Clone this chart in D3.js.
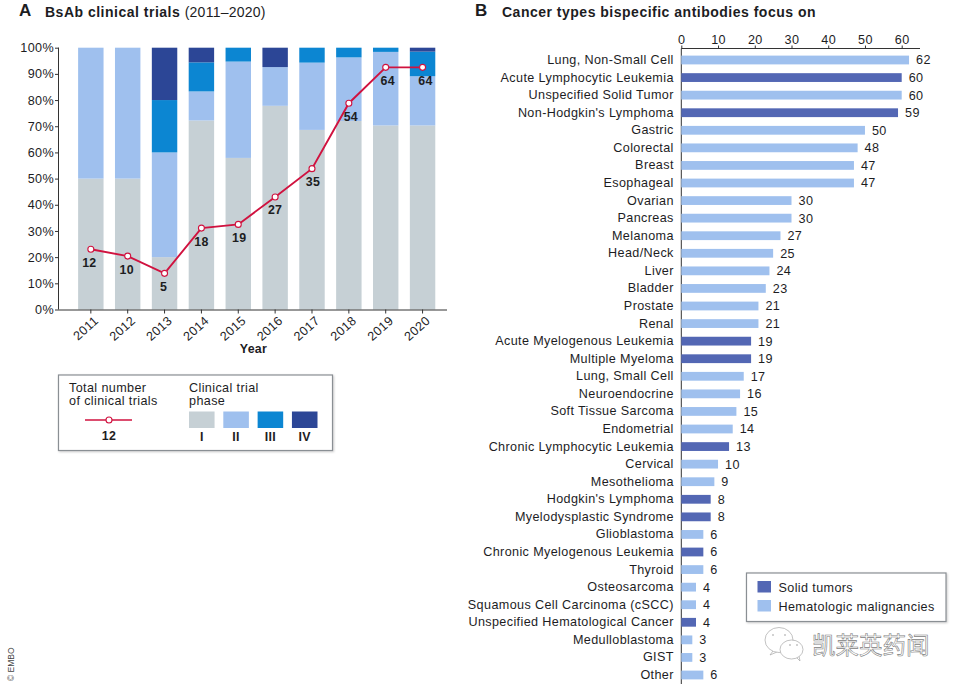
<!DOCTYPE html>
<html><head><meta charset="utf-8">
<script src="https://cdn.jsdelivr.net/npm/d3@7"></script>
<style>
html,body{margin:0;padding:0;background:#fff}
svg{display:block}
text{font-family:"Liberation Sans",Arial,sans-serif;fill:#1d1d1f}
.lab{font-size:12.6px;letter-spacing:.38px}
.num{font-size:12.4px;font-weight:700;letter-spacing:.3px}
.ttl{font-size:14px;font-weight:700;letter-spacing:.5px}
</style></head><body>
<svg id="c" width="962" height="689"></svg>
<script>
const years=[2011,2012,2013,2014,2015,2016,2017,2018,2019,2020];
const phaseI=[50,50,20,72.2,57.9,77.8,68.6,72,70.3,70.3];
const phaseII=[50,50,40,11.1,36.8,14.8,25.7,24.3,28.1,18.8];
const phaseIII=[0,0,20,11.1,5.3,0,5.7,3.7,1.6,9.4];
const phaseIV=[0,0,20,5.6,0,7.4,0,0,0,1.5];
const trialPct=[23,20.4,13.8,31.1,32.5,43,53.8,78.8,92.5,92.5];
const trialCounts=[12,10,5,18,19,27,35,54,64,64];
const phaseNames=["I","II","III","IV"];
const phaseColors=["#c6d0d5","#9fc0ee","#0c86d2","#2c4696"];
const yTicks=[0,10,20,30,40,50,60,70,80,90,100];
const cancers=["Lung, Non-Small Cell","Acute Lymphocytic Leukemia","Unspecified Solid Tumor","Non-Hodgkin's Lymphoma","Gastric","Colorectal","Breast","Esophageal","Ovarian","Pancreas","Melanoma","Head/Neck","Liver","Bladder","Prostate","Renal","Acute Myelogenous Leukemia","Multiple Myeloma","Lung, Small Cell","Neuroendocrine","Soft Tissue Sarcoma","Endometrial","Chronic Lymphocytic Leukemia","Cervical","Mesothelioma","Hodgkin's Lymphoma","Myelodysplastic Syndrome","Glioblastoma","Chronic Myelogenous Leukemia","Thyroid","Osteosarcoma","Squamous Cell Carcinoma (cSCC)","Unspecified Hematological Cancer","Medulloblastoma","GIST","Other"];
const cancerValues=[62,60,60,59,50,48,47,47,30,30,27,25,24,23,21,21,19,19,17,16,15,14,13,10,9,8,8,6,6,6,4,4,4,3,3,6];
const darkBars=["Acute Lymphocytic Leukemia","Non-Hodgkin's Lymphoma","Acute Myelogenous Leukemia","Multiple Myeloma","Chronic Lymphocytic Leukemia","Hodgkin's Lymphoma","Myelodysplastic Syndrome","Chronic Myelogenous Leukemia","Unspecified Hematological Cancer"];
const bTicks=[0,10,20,30,40,50,60];
const legendB=["Solid tumors","Hematologic malignancies"];
const DARK="#5367b4",LIGHT="#9fc0ee",RED="#d0123f",AXIS="#333";
const svg=d3.select("#c");

// Titles
svg.append("text").attr("x",19).attr("y",15.5).style("font-size","17px").style("font-weight","700").text("A");
const tA=svg.append("text").attr("x",45).attr("y",16.5).attr("class","ttl");
tA.append("tspan").text("BsAb clinical trials ");
tA.append("tspan").style("font-weight","400").style("letter-spacing","0.25px").text("(2011\u20132020)");
svg.append("text").attr("x",475).attr("y",15.5).style("font-size","17px").style("font-weight","700").text("B");
svg.append("text").attr("x",502).attr("y",16.5).attr("class","ttl").text("Cancer types bispecific antibodies focus on");

// Panel A
const xA=d3.scaleBand().domain(years).range([72.4,441]).paddingInner(0.31).paddingOuter(0.155);
const yA=d3.scaleLinear().domain([0,100]).range([309.5,47.7]);
const layers=d3.stack().keys([0,1,2,3]).value((d,k)=>[phaseI,phaseII,phaseIII,phaseIV][k][d])(d3.range(years.length));
svg.append("g").selectAll("g").data(layers).join("g").attr("fill",(d,i)=>phaseColors[i])
 .selectAll("rect").data(d=>d).join("rect")
 .attr("x",d=>xA(years[d.data])).attr("width",xA.bandwidth())
 .attr("y",d=>yA(d[1])).attr("height",d=>Math.max(0,yA(d[0])-yA(d[1])));

const ay=svg.append("g").attr("transform","translate(59,0)").call(d3.axisLeft(yA).tickValues(yTicks).tickFormat(d=>d+"%").tickSize(4).tickPadding(1));
ay.selectAll("text").attr("class","lab");
const ax=svg.append("g").attr("transform","translate(0,309.5)");
ax.call(d3.axisBottom(xA).tickSize(4).tickPadding(4));
ax.selectAll("text").attr("class","lab").attr("text-anchor","end").attr("x",0).attr("y",0).attr("dy","0.35em").attr("transform","translate(5.5,9) rotate(-42)");
ax.select(".domain").attr("d","M59,0.5H447");
ay.select(".domain").attr("d","M-0.5,47.7V309.5");
svg.selectAll(".domain,.tick line").attr("stroke",AXIS);
svg.append("text").attr("x",253.5).attr("y",353).attr("text-anchor","middle").attr("class","num").text("Year");

const cx=d=>xA(years[d])+xA.bandwidth()/2;
const line=d3.line().x(cx).y(d=>yA(trialPct[d]));
svg.append("path").datum(d3.range(years.length)).attr("d",line).attr("fill","none").attr("stroke",RED).attr("stroke-width",1.9);
svg.append("g").selectAll("circle").data(d3.range(years.length)).join("circle")
 .attr("cx",cx).attr("cy",d=>yA(trialPct[d])).attr("r",3).attr("fill","#fff").attr("stroke",RED).attr("stroke-width",1.1);
svg.append("g").selectAll("text").data(d3.range(years.length)).join("text")
 .attr("x",d=>cx(d)+[-1.5,-1,-1,0,1,0,1,2,2,3][d]).attr("y",d=>yA(trialPct[d])+17.5)
 .attr("text-anchor","middle").attr("class","num").text(d=>trialCounts[d]);

// Panel A legend
const la=svg.append("g");
la.append("rect").attr("x",58.5).attr("y",375).attr("width",274).attr("height",75.5).attr("fill","#fff").attr("stroke","#8a8f94").attr("stroke-width",1.2).style("filter","drop-shadow(1.5px 1.5px 1px #ccc)");
[["Total number",392],["of clinical trials",405]].forEach(([t,y])=>la.append("text").attr("x",69).attr("y",y).attr("class","lab").text(t));
[["Clinical trial",392],["phase",405]].forEach(([t,y])=>la.append("text").attr("x",189).attr("y",y).attr("class","lab").text(t));
la.append("line").attr("x1",85).attr("x2",132).attr("y1",420).attr("y2",420).attr("stroke",RED).attr("stroke-width",1.5);
la.append("circle").attr("cx",109).attr("cy",420).attr("r",3).attr("fill","#fff").attr("stroke",RED).attr("stroke-width",1.1);
la.append("text").attr("x",109).attr("y",440).attr("text-anchor","middle").attr("class","num").text(trialCounts[0]);
const lx=d3.scaleBand().domain(phaseNames).range([189,317.5]).paddingInner(0.255);
la.selectAll("rect.p").data(phaseNames).join("rect").attr("class","p").attr("x",d=>lx(d)).attr("y",411.5).attr("width",lx.bandwidth()).attr("height",16.5).attr("fill",(d,i)=>phaseColors[i]);
la.selectAll("text.p").data(phaseNames).join("text").attr("class","p num").attr("x",d=>lx(d)+lx.bandwidth()/2).attr("y",441).attr("text-anchor","middle").text(d=>d);

// Panel B
const xB=d3.scaleLinear().domain([0,60]).range([681.3,901.7]);
const rowStep=(675-60)/35;
const yB=d3.scaleBand().domain(cancers).range([60-rowStep/2,675+rowStep/2]).paddingInner(0.5).paddingOuter(0.25);
const bx=svg.append("g").attr("transform","translate(0,48.5)").call(d3.axisTop(xB).tickValues(bTicks).tickSize(3).tickPadding(1.5));
bx.selectAll("text").attr("class","lab");
bx.select(".domain").attr("d","M681.3,0H920");
const by=svg.append("g").attr("transform","translate(681.3,0)").call(d3.axisLeft(yB).tickSize(0).tickPadding(7.5));
by.selectAll("text").attr("class","lab");
by.select(".domain").attr("d","M0,48.5V684");
svg.selectAll(".domain,.tick line").attr("stroke",AXIS);
svg.append("g").selectAll("rect").data(cancers).join("rect")
 .attr("x",xB(0)).attr("y",d=>yB(d)).attr("height",yB.bandwidth())
 .attr("width",(d,i)=>xB(cancerValues[i])-xB(0)).attr("fill",d=>darkBars.includes(d)?DARK:LIGHT);
svg.append("g").selectAll("text").data(cancers).join("text")
 .attr("x",(d,i)=>xB(cancerValues[i])+7).attr("y",d=>yB(d)+yB.bandwidth()/2).attr("dy","0.35em")
 .attr("class","lab").text((d,i)=>cancerValues[i]);

// Panel B legend
const lb=svg.append("g");
lb.append("rect").attr("x",746.5).attr("y",573).attr("width",199.5).attr("height",48.5).attr("fill","#fff").attr("stroke","#8a8f94").attr("stroke-width",1.2).style("filter","drop-shadow(1.5px 1.5px 1px #ccc)");
legendB.forEach((t,i)=>{
 lb.append("rect").attr("x",757.5).attr("y",581+i*19).attr("width",13.5).attr("height",11.5).attr("fill",i?LIGHT:DARK);
 lb.append("text").attr("x",778.5).attr("y",591.5+i*19).attr("class","lab").text(t);
});

// Watermark
const wm=svg.append("g").attr("fill","#fff").attr("stroke","#a8a8a8").attr("stroke-width",0.7);
wm.append("path").attr("d","M773,651L770,655L777,652");
wm.append("ellipse").attr("cx",779).attr("cy",640).attr("rx",14).attr("ry",12.5);
wm.append("path").attr("d","M796,657L800,661L799,656");
wm.append("ellipse").attr("cx",791.5).attr("cy",649.5).attr("rx",11.5).attr("ry",9.5);
[[773,635],[785,635],[790,645],[797,645]].forEach(([x,y])=>wm.append("circle").attr("cx",x).attr("cy",y).attr("r",0.8).attr("fill","#999").attr("stroke","none"));
wm.append("text").attr("x",812).attr("y",654).style("font-family","'Noto Sans CJK SC'").style("font-size","23.5px").style("fill","#fff").attr("stroke","#808080").attr("stroke-width",0.6).text("凯莱英药闻");

// Credit
svg.append("text").attr("transform","translate(14,681) rotate(-90)").style("font-size","8.5px").style("fill","#444").text("\u00A9 EMBO");
</script>
</body></html>
